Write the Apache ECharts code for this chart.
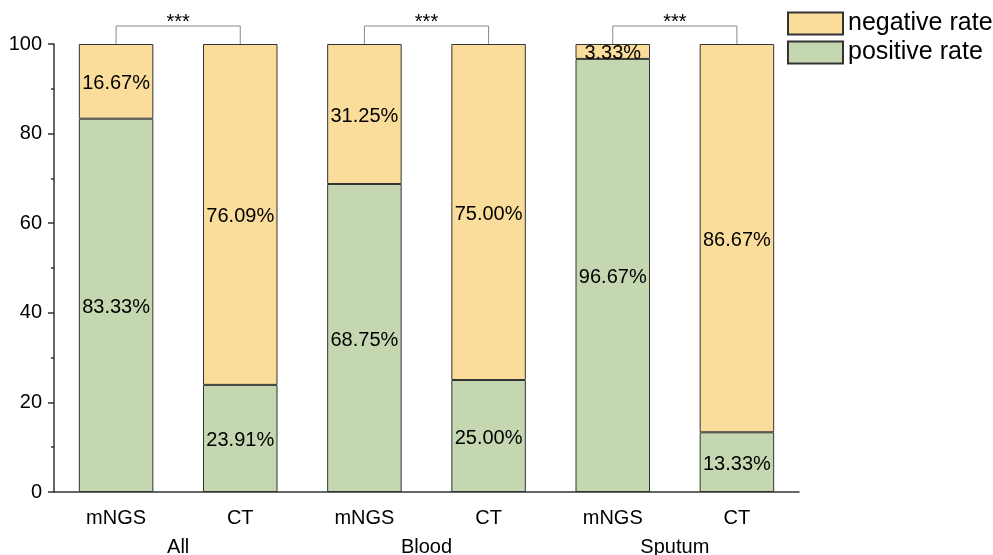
<!DOCTYPE html>
<html>
<head>
<meta charset="utf-8">
<script src="https://cdn.jsdelivr.net/npm/echarts@6/dist/echarts.min.js"></script>
<style>
  html, body { margin: 0; padding: 0; background: #fff; }
  #chart { width: 993px; height: 555px; }
</style>
</head>
<body>
<div id="chart"></div>
<script>
// Detection rates by method, grouped by specimen type
const methods = ['mNGS', 'CT', 'mNGS', 'CT', 'mNGS', 'CT'];
const groups = ['All', 'Blood', 'Sputum'];
const positiveRate = [83.33, 23.91, 68.75, 25.00, 96.67, 13.33];
const negativeRate = [16.67, 76.09, 31.25, 75.00, 3.33, 86.67];
// Pairwise comparisons: [first bar index, second bar index, label]
const comparisons = [[0, 1, '***'], [2, 3, '***'], [4, 5, '***']];
const yTicks = { min: 0, max: 100, interval: 20 };

const FONT = 'Liberation Sans, Arial, sans-serif';
const POS_COLOR = '#C5D7B0';
const NEG_COLOR = '#FADD9B';
const EDGE = '#333333';

const chart = echarts.init(document.getElementById('chart'), null, { renderer: 'canvas' });

const labelStyle = {
  show: true,
  position: 'inside',
  offset: [0, 2],
  fontFamily: FONT,
  fontSize: 20,
  color: '#000',
  formatter: p => p.value.toFixed(2) + '%'
};

chart.setOption({
  animation: false,
  grid: { left: 54, top: 44, width: 745, height: 448, containLabel: false, outerBoundsMode: 'none' },
  legend: {
    orient: 'vertical',
    left: 787,
    top: 11,
    padding: 0,
    itemWidth: 55,
    itemHeight: 22,
    itemGap: 4,
    icon: 'rect',
    data: ['negative rate', 'positive rate'],
    textStyle: { fontFamily: FONT, fontSize: 25, color: '#000' },
    selectedMode: false
  },
  xAxis: [
    {
      type: 'category',
      data: methods,
      axisLine: { lineStyle: { color: EDGE, width: 1.5 } },
      axisTick: { alignWithLabel: true, length: 5, lineStyle: { color: EDGE, width: 1.5 } },
      axisLabel: { fontFamily: FONT, fontSize: 20, color: '#000', margin: 16 }
    },
    {
      type: 'category',
      position: 'bottom',
      offset: 35,
      data: groups,
      axisLine: { show: false },
      axisTick: { show: false },
      axisLabel: { fontFamily: FONT, fontSize: 20, color: '#000', margin: 10 }
    }
  ],
  yAxis: {
    type: 'value',
    min: yTicks.min,
    max: yTicks.max,
    interval: yTicks.interval,
    splitLine: { show: false },
    axisLine: { show: true, lineStyle: { color: EDGE, width: 1.5 } },
    axisTick: { show: true, length: 6, lineStyle: { color: EDGE, width: 1.5 } },
    minorTick: { show: true, splitNumber: 2, length: 3, lineStyle: { color: EDGE, width: 1.5 } },
    axisLabel: { fontFamily: FONT, fontSize: 20, color: '#000', margin: 12 }
  },
  series: [
    {
      name: 'positive rate',
      type: 'bar',
      stack: 'rate',
      barWidth: '60%',
      data: positiveRate,
      itemStyle: { color: POS_COLOR, borderColor: EDGE, borderWidth: 1 },
      label: labelStyle
    },
    {
      name: 'negative rate',
      type: 'bar',
      stack: 'rate',
      barWidth: '60%',
      data: negativeRate,
      itemStyle: { color: NEG_COLOR, borderColor: EDGE, borderWidth: 1 },
      label: labelStyle
    },
    {
      // significance brackets above each pair of bars
      type: 'custom',
      clip: false,
      silent: true,
      z: 10,
      data: comparisons.map(c => [c[0], c[1], c[2]]),
      encode: { x: [0, 1] },
      renderItem: (params, api) => {
        const a = api.coord([api.value(0), yTicks.max]);
        const b = api.coord([api.value(1), yTicks.max]);
        const rise = 18;
        const top = a[1] - rise;
        return {
          type: 'group',
          children: [
            {
              type: 'polyline',
              shape: { points: [[a[0], a[1]], [a[0], top], [b[0], top], [b[0], b[1]]] },
              style: { stroke: '#8a8a8a', lineWidth: 1, fill: null }
            },
            {
              type: 'text',
              style: {
                text: comparisons[params.dataIndex][2],
                x: (a[0] + b[0]) / 2,
                y: top + 6,
                align: 'center',
                verticalAlign: 'bottom',
                fontFamily: FONT,
                fontSize: 20,
                fill: '#000'
              }
            }
          ]
        };
      }
    }
  ]
});
</script>
</body>
</html>
